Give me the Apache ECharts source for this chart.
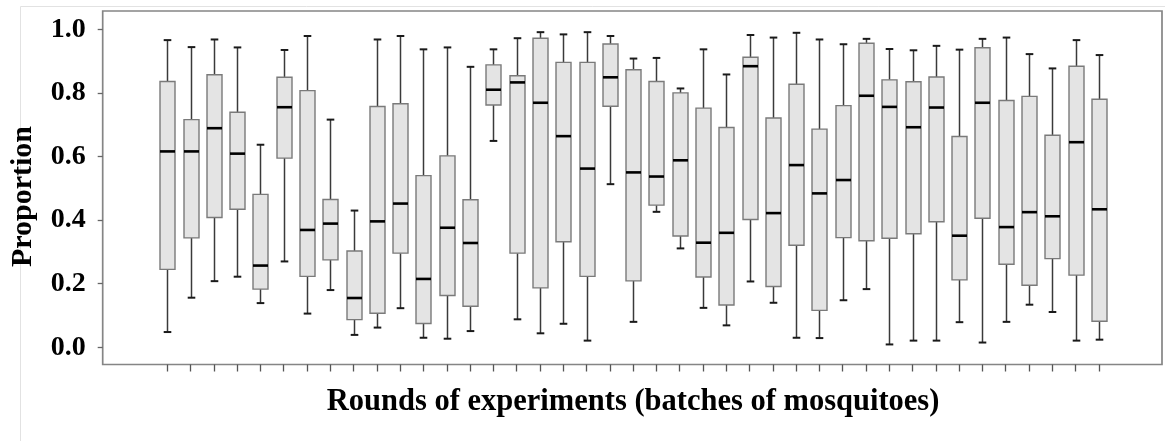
<!DOCTYPE html>
<html>
<head>
<meta charset="utf-8">
<script src="https://cdn.jsdelivr.net/npm/echarts@6/dist/echarts.min.js"></script>
<style>
html,body{margin:0;padding:0;background:#fff;}
#chart{width:1165px;height:441px;}
</style>
</head>
<body>
<div id="chart"></div>
<script>
// Categories: rounds of experiments (batches of mosquitoes)
var rounds = ['1','2','3','4','5','6','7','8','9','10','11','12','13','14','15','16','17','18','19','20','21','22','23','24','25','26','27','28','29','30','31','32','33','34','35','36','37','38','39','40','41'];
// Box plot statistics
var whiskerLow = [0.048,0.156,0.208,0.222,0.139,0.270,0.106,0.180,0.039,0.062,0.123,0.030,0.027,0.051,0.649,0.088,0.044,0.074,0.021,0.513,0.080,0.426,0.311,0.124,0.069,0.207,0.140,0.030,0.029,0.148,0.183,0.009,0.021,0.021,0.079,0.015,0.080,0.134,0.111,0.021,0.024];
var q1 = [0.245,0.344,0.408,0.434,0.183,0.595,0.223,0.275,0.087,0.107,0.296,0.075,0.163,0.129,0.762,0.296,0.187,0.332,0.223,0.758,0.209,0.447,0.350,0.221,0.133,0.402,0.191,0.321,0.116,0.345,0.335,0.343,0.357,0.395,0.212,0.406,0.261,0.195,0.279,0.227,0.082];
var median = [0.616,0.616,0.689,0.609,0.257,0.755,0.369,0.389,0.155,0.396,0.452,0.215,0.376,0.328,0.810,0.833,0.769,0.664,0.562,0.849,0.550,0.537,0.588,0.329,0.360,0.884,0.422,0.573,0.484,0.526,0.791,0.756,0.692,0.754,0.351,0.769,0.378,0.425,0.412,0.645,0.434];
var q3 = [0.836,0.716,0.857,0.739,0.481,0.849,0.807,0.465,0.303,0.757,0.766,0.540,0.602,0.464,0.888,0.854,0.972,0.896,0.896,0.954,0.873,0.836,0.800,0.752,0.691,0.912,0.721,0.827,0.686,0.760,0.956,0.841,0.835,0.850,0.663,0.942,0.776,0.789,0.667,0.884,0.780];
var whiskerHigh = [0.966,0.944,0.968,0.943,0.637,0.935,0.979,0.716,0.430,0.968,0.979,0.937,0.943,0.882,0.937,0.972,0.991,0.984,0.991,0.979,0.908,0.910,0.814,0.937,0.858,0.982,0.974,0.989,0.968,0.953,0.970,0.938,0.934,0.948,0.936,0.970,0.974,0.922,0.877,0.966,0.919];
var yMin = 0, yMax = 1.0, yStep = 0.2;

var boxData = rounds.map(function (r, i) {
  return [i, whiskerLow[i], q1[i], median[i], q3[i], whiskerHigh[i]];
});

var serif = '"Liberation Serif", "Times New Roman", serif';
var chart = echarts.init(document.getElementById('chart'), null, {renderer: 'canvas'});

var hidden = {show: false};
var option = {
  backgroundColor: '#ffffff',
  animation: false,
  graphic: [
    {type: 'line', shape: {x1: 20.5, y1: 6.5, x2: 1165, y2: 6.5}, style: {stroke: '#e2e2e2', lineWidth: 1}, silent: true},
    {type: 'line', shape: {x1: 20.5, y1: 6.5, x2: 20.5, y2: 441}, style: {stroke: '#e2e2e2', lineWidth: 1}, silent: true}
  ],
  grid: [
    // 0: frame
    {left: 102.7, top: 11, width: 1059.3, height: 353.5, show: true, borderColor: '#858585', borderWidth: 1.7, backgroundColor: 'transparent'},
    // 1: data
    {left: 155.65, top: 29.3, width: 954.9, height: 318},
    // 2: x ticks at the frame bottom
    {left: 155.65, top: 11, width: 954.9, height: 353.5},
    // 3: y ticks/labels at the frame left
    {left: 102.7, top: 29.3, width: 1059.3, height: 318},
    // 4: y axis title holder
    {left: 102.7, top: 40, width: 1059.3, height: 313}
  ],
  xAxis: [
    {type: 'value', gridIndex: 0, show: false, min: 0, max: 1},
    {type: 'category', gridIndex: 1, data: rounds, boundaryGap: true, show: false},
    {
      type: 'category', gridIndex: 2, data: rounds, boundaryGap: true,
      axisLine: {show: false},
      axisTick: {show: true, alignWithLabel: true, length: 7, lineStyle: {color: '#555', width: 1.3}},
      axisLabel: {show: false},
      splitLine: {show: false},
      name: 'Rounds of experiments (batches of mosquitoes)',
      nameLocation: 'middle',
      nameGap: 22,
      nameTextStyle: {fontFamily: serif, fontWeight: 'bold', fontSize: 30.5, color: '#000'}
    },
    {type: 'value', gridIndex: 3, show: false, min: 0, max: 1},
    {type: 'value', gridIndex: 4, show: false, min: 0, max: 1}
  ],
  yAxis: [
    {type: 'value', gridIndex: 0, show: false, min: 0, max: 1},
    {type: 'value', gridIndex: 1, min: yMin, max: yMax, show: false},
    {type: 'value', gridIndex: 2, show: false, min: 0, max: 1},
    {
      type: 'value', gridIndex: 3, min: yMin, max: yMax, interval: yStep,
      axisLine: {show: false},
      axisTick: {show: true, length: 5, lineStyle: {color: '#666', width: 1.3}},
      splitLine: {show: false},
      axisLabel: {
        margin: 17,
        fontFamily: serif, fontWeight: 'bold', fontSize: 28, color: '#000',
        formatter: function (v) { return v.toFixed(1); }
      }
    },
    {
      type: 'value', gridIndex: 4, min: 0, max: 1,
      axisLine: {show: false}, axisTick: {show: false}, axisLabel: {show: false}, splitLine: {show: false},
      name: 'Proportion',
      nameLocation: 'middle',
      nameGap: 66,
      nameTextStyle: {fontFamily: serif, fontWeight: 'bold', fontSize: 30, color: '#000'}
    }
  ],
  series: [{
    type: 'custom',
    xAxisIndex: 1,
    yAxisIndex: 1,
    data: boxData,
    encode: {x: 0, y: [1, 2, 3, 4, 5]},
    renderItem: function (params, api) {
      var idx = api.value(0);
      var pLow = api.coord([idx, api.value(1)]);
      var pQ1 = api.coord([idx, api.value(2)]);
      var pMed = api.coord([idx, api.value(3)]);
      var pQ3 = api.coord([idx, api.value(4)]);
      var pHigh = api.coord([idx, api.value(5)]);
      var cx = Math.round(pMed[0]) + 0.5;
      var hw = 7.5, cw = 3.8;
      var whisk = {stroke: '#3a3a3a', lineWidth: 1.5};
      var cap = {stroke: '#1a1a1a', lineWidth: 2};
      return {
        type: 'group',
        children: [
          {type: 'line', shape: {x1: cx, y1: pHigh[1], x2: cx, y2: pQ3[1]}, style: whisk},
          {type: 'line', shape: {x1: cx, y1: pQ1[1], x2: cx, y2: pLow[1]}, style: whisk},
          {type: 'line', shape: {x1: cx - cw, y1: pHigh[1], x2: cx + cw, y2: pHigh[1]}, style: cap},
          {type: 'line', shape: {x1: cx - cw, y1: pLow[1], x2: cx + cw, y2: pLow[1]}, style: cap},
          {type: 'rect', shape: {x: cx - hw, y: pQ3[1], width: 2 * hw, height: pQ1[1] - pQ3[1]},
            style: {fill: '#e4e4e4', stroke: '#7a7a7a', lineWidth: 1.4}},
          {type: 'line', shape: {x1: cx - hw, y1: pMed[1], x2: cx + hw, y2: pMed[1]},
            style: {stroke: '#000', lineWidth: 2.6}}
        ]
      };
    }
  }]
};
chart.setOption(option);
</script>
</body>
</html>
